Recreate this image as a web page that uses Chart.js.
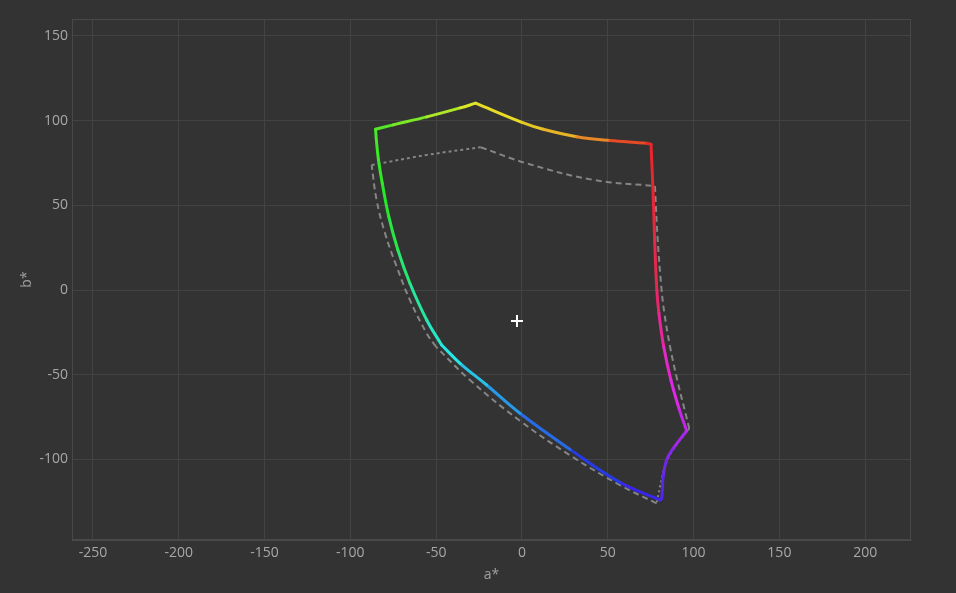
<!DOCTYPE html>
<html>
<head>
<meta charset="utf-8">
<title>a*b* gamut</title>
<script src="https://cdn.jsdelivr.net/npm/chart.js@4"></script>
<style>
  html, body { margin: 0; padding: 0; background: #333333; }
  #wrap { width: 956px; height: 593px; }
</style>
</head>
<body>
<div id="wrap"><canvas id="gamutChart" width="956" height="593"></canvas></div>
<script>
// gamut boundary (solid, coloured), a* and b*
const gamutA = [-85.3, -75.0, -55.5, -36.0, -27.0, 0.0, 12.4, 31.9, 51.3, 72.7, 75.2,
                76.5, 77.3, 78.6, 79.8, 82.6, 86.8, 91.8, 96.0,
                88.2, 84.3, 82.3, 81.4, 80.4,
                57.1, 28.0, -1.2, -20.6, -36.1, -46.8,
                -55.5, -65.3, -72.3, -77.6, -81.4, -83.6, -84.8, -85.3];
const gamutB = [94.9, 97.5, 102.2, 107.5, 110.3, 99.0, 94.9, 90.5, 88.2, 86.6, 86.0,
                55.1, 29.5, 0.0, -13.8, -33.5, -53.2, -70.9, -83.1,
                -93.5, -100.4, -110.2, -123.0, -124.0,
                -113.6, -94.1, -72.8, -56.1, -43.3, -32.5,
                -17.7, 4.0, 23.6, 43.3, 63.0, 76.8, 88.0, 94.9];
// indices of the corners (green, yellow, red, magenta, blue, cyan, green)
const gamutCorners = [0, 4, 10, 18, 23, 29, 37];

// reference gamut (grey dashed)
const refA = [-87.6, -55.5, -24.1, 2.7, 41.6, 77.5, 79.0, 81.2, 83.0, 86.3, 90.5, 95.3, 97.5,
              87.2, 83.3, 80.4, 78.5,
              57.1, 28.0, -1.2, -30.3, -50.1,
              -55.5, -65.3, -73.0, -79.8, -84.7, -87.6];
const refB = [73.8, 79.7, 84.3, 74.8, 65.0, 61.4, 31.3, 1.9, -13.8, -33.5, -53.2, -72.8, -81.7,
              -95.5, -104.3, -116.2, -126.0,
              -115.2, -97.6, -77.2, -53.2, -33.5,
              -25.6, -5.9, 13.8, 33.5, 53.1, 73.8];
const refCorners = [0, 2, 5, 12, 16, 21, 27];

// white point
const whiteA = [-2.9];
const whiteB = [-18.3];

// axis ticks
const aTicks = [-250, -200, -150, -100, -50, 0, 50, 100, 150, 200];
const bTicks = [-100, -50, 0, 50, 100, 150];

function toPoints(xs, ys) {
    return xs.map((x, i) => ({ x: x, y: ys[i] }));
}

// split a closed outline into its edges, one dataset each
function edges(xs, ys, corners) {
    const pts = toPoints(xs, ys);
    const out = [];
    for (let i = 0; i < corners.length - 1; i++) {
        out.push(pts.slice(corners[i], corners[i + 1] + 1));
    }
    return out;
}

// map Lab hue angle to a display hue
const hueStops = [[0, 345], [49, 360], [70, 400], [104, 420], [132, 470], [151, 485], [176, 510],
                  [215, 535], [269, 570], [286, 585], [303, 610], [319, 645], [329, 665], [360, 705]];

function segColor(ctx) {
    const a = (ctx.p0.parsed.x + ctx.p1.parsed.x) / 2;
    const b = (ctx.p0.parsed.y + ctx.p1.parsed.y) / 2;
    let ang = Math.atan2(b, a) * 180 / Math.PI;
    if (ang < 0) ang += 360;
    let h = 0;
    for (let i = 0; i < hueStops.length - 1; i++) {
        const s0 = hueStops[i], s1 = hueStops[i + 1];
        if (ang >= s0[0] && ang <= s1[0]) {
            h = s0[1] + (ang - s0[0]) / (s1[0] - s0[0]) * (s1[1] - s0[1]);
            break;
        }
    }
    return `hsl(${h % 360}, 80%, 53%)`;
}

const bgPlugin = {
    id: "bg",
    beforeDraw(chart) {
        const c = chart.ctx;
        c.save();
        c.fillStyle = "#333333";
        c.fillRect(0, 0, chart.width, chart.height);
        c.restore();
    },
    beforeDatasetsDraw(chart) {
        const { ctx, chartArea } = chart;
        ctx.save();
        ctx.strokeStyle = "#484848";
        ctx.lineWidth = 1;
        ctx.strokeRect(chartArea.left + 0.5, chartArea.top + 0.5,
                       chartArea.right - chartArea.left - 1, chartArea.bottom - chartArea.top - 1);
        ctx.restore();
    }
};

const refDash = [[3, 3], [6, 4], [6, 4], [2, 3], [6, 4], [6, 4]];

const datasets = [{
    label: "white point",
    data: toPoints(whiteA, whiteB),
    pointStyle: "cross",
    pointRadius: 6,
    pointBorderWidth: 2,
    borderColor: "#ffffff",
    backgroundColor: "#ffffff",
    order: 0
}];

edges(gamutA, gamutB, gamutCorners).forEach((pts, i) => {
    datasets.push({
        label: "gamut " + i,
        data: pts,
        showLine: true,
        pointRadius: 0,
        borderWidth: 3,
        borderColor: "#ffffff",
        borderCapStyle: "round",
        borderJoinStyle: "round",
        segment: { borderColor: segColor },
        tension: 0.4,
        order: 1
    });
});

edges(refA, refB, refCorners).forEach((pts, i) => {
    datasets.push({
        label: "reference " + i,
        data: pts,
        showLine: true,
        pointRadius: 0,
        borderWidth: 2,
        borderColor: "#858585",
        borderDash: refDash[i],
        tension: 0.4,
        order: 2
    });
});

const ctx = document.getElementById("gamutChart").getContext("2d");

new Chart(ctx, {
    type: "scatter",
    data: { datasets: datasets },
    options: {
        responsive: false,
        animation: false,
        layout: {
            padding: { left: 0, right: 45, top: 19, bottom: 0 }
        },
        plugins: {
            legend: { display: false },
            tooltip: { enabled: false }
        },
        scales: {
            x: {
                type: "linear",
                min: -262.2,
                max: 226.7,
                afterBuildTicks: scale => {
                    scale.ticks = aTicks.map(v => ({ value: v }));
                },
                afterFit: scale => { scale.height = 53; },
                grid: { color: "#434343", drawTicks: false },
                border: { color: "#4a4a4a" },
                ticks: {
                    color: "#a8a8a8",
                    padding: 5,
                    font: { family: "Open Sans", size: 14 }
                },
                title: {
                    display: true,
                    text: "a*",
                    color: "#a0a0a0",
                    font: { family: "Open Sans", size: 14 },
                    padding: { top: 0, bottom: 10 }
                }
            },
            y: {
                type: "linear",
                min: -147.6,
                max: 160.0,
                afterBuildTicks: scale => {
                    scale.ticks = bTicks.map(v => ({ value: v }));
                },
                afterFit: scale => { scale.width = 72; },
                grid: { color: "#434343", drawTicks: false },
                border: { color: "#4a4a4a" },
                ticks: {
                    color: "#a8a8a8",
                    padding: 4,
                    font: { family: "Open Sans", size: 14 }
                },
                title: {
                    display: true,
                    text: "b*",
                    color: "#a0a0a0",
                    font: { family: "Open Sans", size: 14 },
                    padding: { top: 19, bottom: 0 }
                }
            }
        }
    },
    plugins: [bgPlugin]
});
</script>
</body>
</html>
